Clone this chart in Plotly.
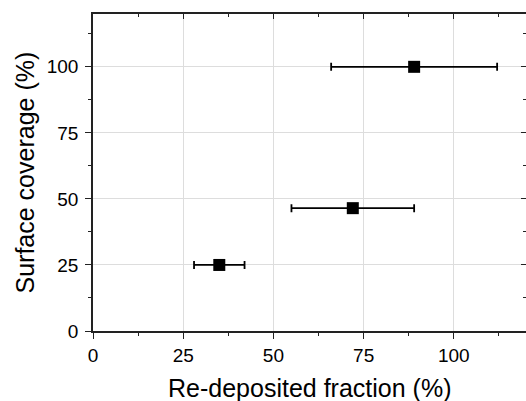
import plotly.graph_objects as go

x_vals = [35, 72, 89]
y_vals = [25, 46.5, 100]
x_err = [7, 17, 23]

x_ticks = [0, 25, 50, 75, 100]
y_ticks = [0, 25, 50, 75, 100]

font = "Liberation Sans, Arial, sans-serif"
axcol = "#222222"

fig = go.Figure()
fig.add_trace(go.Scatter(
    x=x_vals, y=y_vals, mode="markers",
    marker=dict(symbol="square", size=12, color="black"),
    error_x=dict(type="data", array=x_err, visible=True, color="black",
                 thickness=1.8, width=4),
    showlegend=False,
))
# invisible trace for mirrored axes
fig.add_trace(go.Scatter(x=[0], y=[0], xaxis="x2", yaxis="y2", mode="markers",
                         marker=dict(opacity=0), showlegend=False, hoverinfo="skip"))

common = dict(range=[0, 120], showline=True, linecolor=axcol, linewidth=1.5,
              zeroline=False, automargin=False,
              tickfont=dict(family=font, size=19, color="black"),
              tickcolor=axcol, tickwidth=1.3)

fig.update_layout(
    width=526, height=401,
    margin=dict(l=93, r=0, t=14, b=70),
    paper_bgcolor="white", plot_bgcolor="white",
    font=dict(family=font, color="black"),
    xaxis=dict(**common, tickvals=x_ticks, ticktext=[str(v) for v in x_ticks],
               ticks="outside", ticklen=6, ticklabelstandoff=0,
               showgrid=True, gridcolor="#dddddd", gridwidth=1,
               minor=dict(ticks="outside", ticklen=3, tick0=12.5, dtick=25,
                          tickcolor=axcol, showgrid=False)),
    yaxis=dict(**common, tickvals=y_ticks, ticktext=[str(v) for v in y_ticks],
               ticks="outside", ticklen=6, ticklabelstandoff=3,
               showgrid=True, gridcolor="#dddddd", gridwidth=1,
               minor=dict(ticks="outside", ticklen=3, tick0=12.5, dtick=25,
                          tickcolor=axcol, showgrid=False)),
    xaxis2=dict(**common, overlaying="x", side="top", matches="x",
                tickvals=x_ticks, showticklabels=False, ticks="inside", ticklen=5,
                showgrid=False,
                minor=dict(ticks="inside", ticklen=3, tick0=12.5, dtick=25,
                           tickcolor=axcol, showgrid=False)),
    yaxis2=dict(range=[0, 120], showline=False, zeroline=False, automargin=False,
                overlaying="y", side="right", matches="y",
                tickvals=y_ticks, showticklabels=False, ticks="inside", ticklen=5,
                tickcolor=axcol, tickwidth=1.3, showgrid=False,
                minor=dict(ticks="inside", ticklen=3, tick0=12.5, dtick=25,
                           tickcolor=axcol, showgrid=False)),
    annotations=[
        dict(text="Re-deposited fraction (%)", xref="paper", yref="paper",
             x=0.5, y=0, xanchor="center", yanchor="middle", yshift=-57,
             showarrow=False, font=dict(family=font, size=25, color="black")),
        dict(text="Surface coverage (%)", xref="paper", yref="paper",
             x=0, y=0.5, xanchor="center", yanchor="middle", xshift=-69,
             textangle=-90,
             showarrow=False, font=dict(family=font, size=25, color="black")),
    ],
)

fig.write_html(
    "out.html",
    config={"displayModeBar": False},
    post_script="document.body.style.margin='0';document.body.style.overflow='hidden';",
)
